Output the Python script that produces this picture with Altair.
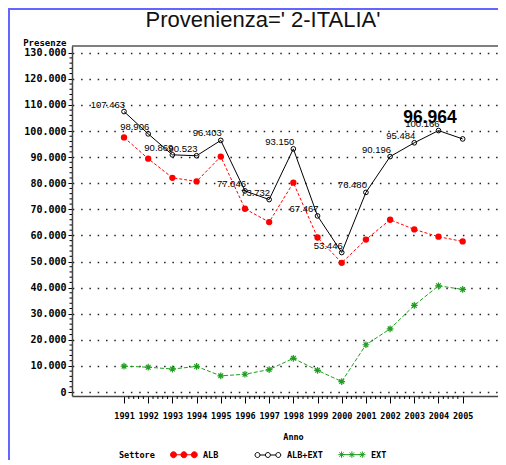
import altair as alt
import pandas as pd

# ---- data ----
years = list(range(1991, 2006))
alb = [97550, 89400, 82070, 80700, 90200, 70200, 65100, 80200, 59200, 49500, 58400, 66000, 62300, 59500, 57700]
ext = [9900, 9500, 8800, 9800, 6200, 6800, 8600, 12900, 8300, 4000, 18100, 24200, 33200, 40700, 39300]
alb_ext = [107463, 98906, 90869, 90523, 96403, 77046, 73732, 93150, 67467, 53446, 76480, 90196, 95484, 100166, 96964]
series_names = ["ALB", "ALB+EXT", "EXT"]
series_fill = ["#ff0000", "#ffffff", "#1f9e1f"]
series_stroke = ["#ff0000", "#000000", "#1f9e1f"]
title_text = "Provenienza=' 2-ITALIA'"
y_major = list(range(0, 130001, 10000))
y_minor = [v for v in range(0, 130001, 2000) if v % 10000]
x_minor = [round(y + f, 1) for y in years[:-1] for f in (0.2, 0.4, 0.6, 0.8)]

rows = []
for name, vals in zip(series_names, [alb, alb_ext, ext]):
    for yr, v in zip(years, vals):
        rows.append({"year": yr, "value": v, "series": name,
                     "label": f"{v:,}".replace(",", ".")})
df = pd.DataFrame(rows)

W, H = 426, 350
SANS = "Liberation Sans"
MONO = "DejaVu Sans Mono"

x_enc = alt.X("year:Q",
              scale=alt.Scale(domain=[1988.85, 2006.46], nice=False, zero=False),
              axis=alt.Axis(values=years, format="d", tickSize=7,
                            labelOverlap=False, labelFlush=False,
                            labelPadding=8, labelFont=MONO, labelFontWeight="bold",
                            labelFontSize=8.5, labelColor="#000",
                            grid=False, title="Anno", titleFont=MONO,
                            titleFontWeight="bold", titleFontSize=8.5,
                            titleX=221, titleY=40, titleBaseline="middle",
                            titleAnchor="start", titleAlign="center"))
y_enc = alt.Y("value:Q",
              scale=alt.Scale(domain=[-1530, 132570], nice=False, zero=False),
              axis=alt.Axis(values=y_major, tickSize=4,
                            labelExpr="replace(format(datum.value, ','), ',', '.')",
                            labelOverlap=False, labelFlush=False,
                            grid=True, gridDash=[1.5, 6.8], gridDashOffset=8, gridColor="#222",
                            gridWidth=1.3,
                            labelPadding=2, labelFont=MONO, labelFontWeight="bold",
                            labelFontSize=10, labelColor="#000",
                            title="Presenze", titleAngle=0, titleAlign="right",
                            titleX=-6, titleY=-4, titleBaseline="middle",
                            titleFont=MONO, titleFontWeight="bold", titleFontSize=9))

blank = alt.Data(values=[{}])

border_left = alt.Chart(blank).mark_rule(color="#6464ff", strokeWidth=2).encode(
    x=alt.value(-63), y=alt.value(-37), y2=alt.value(H + 70))
border_top = alt.Chart(blank).mark_rule(color="#6464ff", strokeWidth=2).encode(
    x=alt.value(-64), x2=alt.value(W + 10), y=alt.value(-37))
frame_top = alt.Chart(blank).mark_rule(color="#555", strokeWidth=1.6).encode(
    x=alt.value(0), x2=alt.value(W), y=alt.value(0))
title = alt.Chart(blank).mark_text(
    text=title_text, font=SANS, fontSize=22, align="center", baseline="alphabetic",
    color="#111").encode(x=alt.value(191), y=alt.value(-19))

# minor ticks
xminor_layer = alt.Chart(pd.DataFrame({"year": x_minor})).mark_rule(
    color="#000", strokeWidth=1).encode(x=x_enc, y=alt.value(H), y2=alt.value(H + 3))
yminor_layer = alt.Chart(pd.DataFrame({"value": y_minor})).mark_rule(
    color="#000", strokeWidth=1).encode(y=y_enc, x=alt.value(-2.5), x2=alt.value(0))

def sel(name):
    return alt.datum.series == name

line_alb = alt.Chart(df).transform_filter(sel("ALB")).mark_line(
    color="#ff0000", strokeDash=[3, 2], strokeWidth=1).encode(x=x_enc, y=y_enc)
line_tot = alt.Chart(df).transform_filter(sel("ALB+EXT")).mark_line(
    color="#000000", strokeWidth=1).encode(x=x_enc, y=y_enc)
line_ext = alt.Chart(df).transform_filter(sel("EXT")).mark_line(
    color="#1f9e1f", strokeDash=[4, 2], strokeWidth=1).encode(x=x_enc, y=y_enc)

ASTER = "M-1,0L1,0M0,-1L0,1M-0.7,-0.7L0.7,0.7M-0.7,0.7L0.7,-0.7"
pt_alb = alt.Chart(df).transform_filter(sel("ALB")).mark_point(
    shape="circle", filled=True, color="#ff0000", size=40, opacity=1).encode(x=x_enc, y=y_enc)
pt_tot = alt.Chart(df).transform_filter(sel("ALB+EXT")).mark_point(
    shape="circle", filled=False, color="#000000", size=22, strokeWidth=1, opacity=1).encode(x=x_enc, y=y_enc)
pt_ext = alt.Chart(df).transform_filter(sel("EXT")).mark_point(
    shape=ASTER, filled=False, color="#1f9e1f", size=45, strokeWidth=1.2, opacity=1).encode(x=x_enc, y=y_enc)

labels_small = alt.Chart(df).transform_filter(
    (alt.datum.series == "ALB+EXT") & (alt.datum.year < 2005)).mark_text(
    align="right", baseline="alphabetic", dx=1, dy=-4, font=SANS,
    fontSize=9.5, color="#000").encode(x=x_enc, y=y_enc, text="label:N")
label_big = alt.Chart(df).transform_filter(
    (alt.datum.series == "ALB+EXT") & (alt.datum.year == 2005)).mark_text(
    align="right", baseline="alphabetic", dx=-6, dy=-16, font=SANS,
    fontWeight="bold", fontSize=17.5, color="#000").encode(x=x_enc, y=y_enc, text="label:N")

# legend glyphs: three markers joined by a line, in symbol units
def circ(cx, r):
    return f"M{cx - r},0A{r},{r} 0 1,0 {cx + r},0A{r},{r} 0 1,0 {cx - r},0Z"

def aster(cx, a):
    d = a * 0.7
    return (f"M{cx - a},0L{cx + a},0M{cx},{-a}L{cx},{a}"
            f"M{cx - d},{-d}L{cx + d},{d}M{cx - d},{d}L{cx + d},{-d}")

cs = [0, 2.6, 5.2]
p_alb = "".join(circ(c, 0.75) for c in cs) + "M0,0L5.2,0"
p_tot = "".join(circ(c, 0.62) for c in cs) + "M0.62,0L1.98,0M3.22,0L4.58,0"
p_ext = "".join(aster(c, 0.8) for c in cs) + "M0,0L5.2,0"

leg = alt.Legend(title="Settore", orient="none", legendX=47, legendY=404,
                 direction="horizontal", columns=3, titleOrient="left",
                 gridAlign="all", columnPadding=13, labelOffset=25,
                 symbolSize=64, symbolStrokeWidth=1, symbolOpacity=1,
                 titlePadding=14, titleFont=MONO, titleFontWeight="bold",
                 titleFontSize=8.5, titleColor="#000", titleBaseline="middle",
                 labelFont=MONO, labelFontWeight="bold", labelFontSize=8.5,
                 labelColor="#000")

legend_layer = alt.Chart(df).mark_point(opacity=0).encode(
    x=x_enc, y=y_enc,
    shape=alt.Shape("series:N", scale=alt.Scale(domain=series_names, range=[p_alb, p_tot, p_ext]), legend=leg),
    fill=alt.Fill("series:N", scale=alt.Scale(domain=series_names, range=series_fill), legend=leg),
    stroke=alt.Stroke("series:N", scale=alt.Scale(domain=series_names, range=series_stroke), legend=leg),
)

chart = alt.layer(
    border_left, border_top, frame_top, title,
    xminor_layer, yminor_layer,
    line_tot, line_alb, line_ext,
    pt_alb, pt_tot, pt_ext,
    labels_small, label_big, legend_layer,
).properties(
    width=W, height=H,
    autosize=alt.AutoSizeParams(type="none"),
    padding={"left": 64, "top": 38, "right": 0, "bottom": 64},
).configure_view(stroke=None).configure_axis(
    domainColor="#444", domainWidth=1.5, tickColor="#000", tickWidth=1
)

chart.save("out.html", embed_options={"renderer": "svg", "actions": False})
